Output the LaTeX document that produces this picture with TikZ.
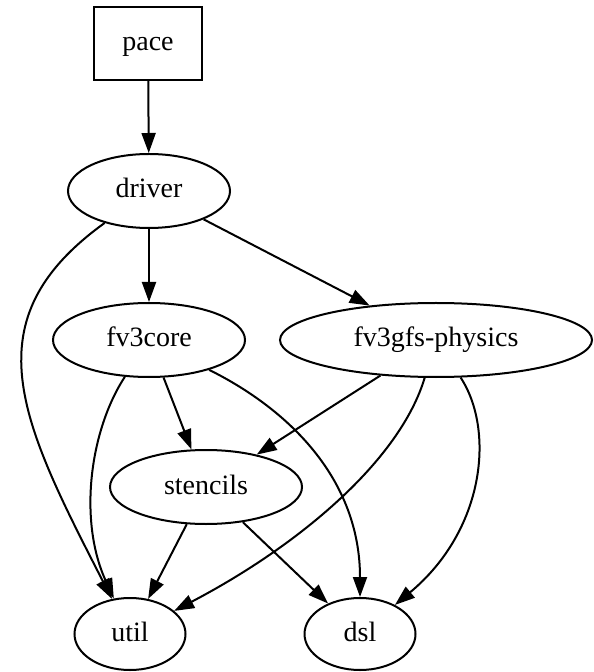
\documentclass[tikz,border=0pt]{standalone}
\usepackage{fontspec}
\setmainfont{Liberation Serif}
\usetikzlibrary{shapes.geometric,arrows.meta,positioning}

\begin{document}
\begin{tikzpicture}[x=0.5pt, y=-0.5pt, line width=1pt,
    >={Triangle[length=10pt,width=7pt]},
    every node/.style={font=\fontsize{14}{16}\selectfont, inner sep=0pt,
      text height=10pt, text depth=3pt},
    entry/.style={draw, rectangle, minimum width=54pt, minimum height=36.5pt},
    pkg/.style={draw, ellipse, minimum height=37pt}]
    \useasboundingbox (0,0) rectangle (593,672);

    % nodes
    \node[entry] (pace) at (148, 43.5) {pace};
    \node[pkg, minimum width=81pt] (driver) at (149, 191) {driver};
    \node[pkg, minimum width=96pt] (fv3core) at (149, 340) {fv3core};
    \node[pkg, minimum width=156pt] (physics) at (436, 340) {fv3gfs-physics};
    \node[pkg, minimum width=96pt] (stencils) at (206, 487) {stencils};
    \node[pkg, minimum width=55.5pt, minimum height=36pt] (util) at (130, 634) {util};
    \node[pkg, minimum width=55.5pt, minimum height=36pt] (dsl) at (360, 634) {dsl};

    % straight edges
    \draw[->] (pace) -- (driver);
    \draw[->] (driver) -- (fv3core);
    \draw[->] (driver) -- (physics);
    \draw[->] (fv3core) -- (stencils);
    \draw[->] (physics) -- (stencils);
    \draw[->] (stencils) -- (util);
    \draw[->] (stencils) -- (dsl);

    % curved edges
    \draw[->] (driver) .. controls (-30, 320) and (20, 420) .. (util);
    \draw[->] (fv3core) .. controls (90, 430) and (78, 520) .. (util);
    \draw[->] (fv3core) .. controls (290, 410) and (360, 480) .. (dsl);
    \draw[->] (physics) .. controls (400, 460) and (300, 545) .. (util);
    \draw[->] (physics) .. controls (495, 430) and (485, 530) .. (dsl);
\end{tikzpicture}
\end{document}
